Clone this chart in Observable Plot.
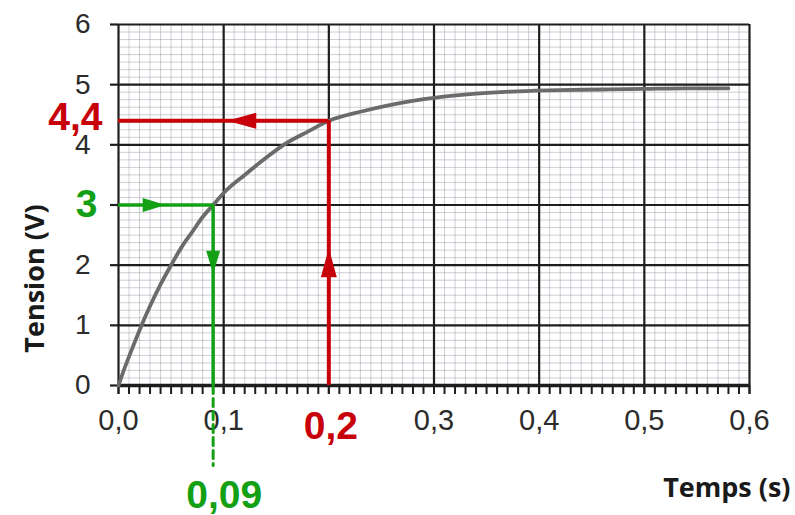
<!DOCTYPE html>
<html><head><meta charset="utf-8">
<script src="https://cdn.jsdelivr.net/npm/d3@7"></script>
<script src="https://cdn.jsdelivr.net/npm/@observablehq/plot@0.6"></script>
<style>
html,body{margin:0;padding:0;background:#fff;}
#chart{width:795px;height:515px;overflow:hidden;}
</style></head><body><div id="chart"></div>
<script>
// Curve: charge of a capacitor
const timeS    = [0, 0.005, 0.01, 0.02, 0.03, 0.04, 0.05, 0.06, 0.07, 0.08, 0.09, 0.10, 0.12, 0.14, 0.157, 0.18, 0.20, 0.23, 0.26, 0.30, 0.34, 0.38, 0.42, 0.46, 0.50, 0.54, 0.58];
const tensionV = [0, 0.25, 0.48, 0.92, 1.32, 1.68, 2.0, 2.3, 2.55, 2.8, 3.0, 3.2, 3.5, 3.78, 4.0, 4.22, 4.4, 4.55, 4.67, 4.78, 4.85, 4.89, 4.91, 4.92, 4.93, 4.94, 4.94];

// Axis ticks and labels (labels covered by the readings are left blank, as in the picture)
const xTicks = [0, 0.1, 0.2, 0.3, 0.4, 0.5, 0.6];
const xTickLabels = ["0,0", "0,1", "", "0,3", "0,4", "0,5", "0,6"];
const yTicks = [0, 1, 2, 3, 4, 5, 6];
const yTickLabels = ["0", "1", "2", "", "4", "5", "6"];
const xMinor = d3.range(0, 61).map(i => i / 100);     // every 0,01 s
const yMinor = d3.range(0, 49).map(i => i / 8);       // every 0,125 V
const xTitle = "Temps (s)";
const yTitle = "Tension (V)";

// Readings (annotations)
const redRead   = [{t: 0.2, v: 4.4, tLabel: "0,2", vLabel: "4,4"}];
const greenRead = [{t: 0.09, v: 3, tLabel: "0,09", vLabel: "3"}];
// Arrow heads: base position and direction (degrees, clockwise from up)
const redHeads   = [{t: 0.2, v: 1.8, dir: 0}, {t: 0.131, v: 4.4, dir: 270}];
const greenHeads = [{t: 0.023, v: 3, dir: 90}, {t: 0.09, v: 2.24, dir: 180}];

const curve = timeS.map((t, i) => ({t, v: tensionV[i]}));

const RED = "#c8000a", GREEN = "#14a014", DARK = "#1e1e1e";
const spikeShape = {draw(ctx, l, r) { ctx.moveTo(-r, 0); ctx.lineTo(0, -l); ctx.lineTo(r, 0); ctx.closePath(); }};
const segShape = {draw(ctx, l) { ctx.moveTo(0, 0); ctx.lineTo(0, -l); }};
const bold = {fontFamily: "Liberation Sans, Arial, sans-serif", fontWeight: "bold", fontSize: 39};

const chart = Plot.plot({
  width: 795, height: 515,
  marginLeft: 118, marginRight: 46, marginTop: 24, marginBottom: 130,
  style: {fontFamily: "Liberation Sans, Arial, sans-serif", color: "#2b2b2b", background: "white", overflow: "visible"},
  x: {domain: [0, 0.6]},
  y: {domain: [0, 6]},
  marks: [
    Plot.gridX(xMinor, {stroke: "#8d94a2", strokeOpacity: 0.45, strokeWidth: 1}),
    Plot.gridY(yMinor, {stroke: "#8d94a2", strokeOpacity: 0.45, strokeWidth: 1}),
    Plot.gridX(xTicks, {stroke: DARK, strokeOpacity: 1, strokeWidth: 2.2}),
    Plot.gridY(yTicks, {stroke: DARK, strokeOpacity: 1, strokeWidth: 2.2}),
    Plot.axisX(xMinor, {tickSize: 9, tickFormat: () => "", strokeWidth: 2, stroke: DARK, label: null}),
    Plot.axisX(xTicks, {tickSize: 9, tickPadding: 15, strokeWidth: 2, stroke: DARK, fontSize: 29, label: null,
      tickFormat: d => xTickLabels[xTicks.indexOf(d)]}),
    Plot.axisY(yTicks, {tickSize: 8, tickPadding: 20, strokeWidth: 2.2, stroke: DARK, fontSize: 28, label: null,
      tickFormat: d => yTickLabels[yTicks.indexOf(d)]}),
    Plot.ruleY([0], {stroke: DARK, strokeWidth: 3.5}),
    Plot.line(curve, {x: "t", y: "v", stroke: "#6b6b6b", strokeWidth: 3.8, curve: "monotone-x"}),
    // red reading
    Plot.ruleX(redRead, {x: "t", y1: 0, y2: "v", stroke: RED, strokeWidth: 4}),
    Plot.ruleY(redRead, {y: "v", x1: 0, x2: "t", stroke: RED, strokeWidth: 4}),
    Plot.vector(redHeads, {x: "t", y: "v", rotate: "dir", length: 29, r: 8, anchor: "start", shape: spikeShape, fill: RED, stroke: "none"}),
    Plot.text(redRead, {x: 0, y: "v", text: "vLabel", textAnchor: "end", dx: -16, dy: -3, fill: RED, ...bold}),
    Plot.text(redRead, {x: "t", y: 0, text: "tLabel", lineAnchor: "top", dy: 26, dx: 2, fill: RED, ...bold}),
    // green reading
    Plot.ruleX(greenRead, {x: "t", y1: 0, y2: "v", stroke: GREEN, strokeWidth: 3.5}),
    Plot.ruleY(greenRead, {y: "v", x1: 0, x2: "t", stroke: GREEN, strokeWidth: 3.5}),
    Plot.vector(greenRead, {x: "t", y: 0, rotate: 180, length: 80, anchor: "start", shape: segShape, stroke: GREEN, strokeWidth: 3, strokeDasharray: "8,5"}),
    Plot.vector(greenHeads, {x: "t", y: "v", rotate: "dir", length: 23, r: 7, anchor: "start", shape: spikeShape, fill: GREEN, stroke: "none"}),
    Plot.text(greenRead, {x: 0, y: "v", text: "vLabel", textAnchor: "end", dx: -21, fill: GREEN, ...bold}),
    Plot.text(greenRead, {x: "t", y: 0, text: "tLabel", lineAnchor: "top", dy: 95, dx: 11, fill: GREEN, ...bold}),
    // axis titles
    Plot.text([xTitle], {frameAnchor: "bottom-right", text: d => d, textAnchor: "end", lineAnchor: "bottom", dx: 41, dy: 111,
      fontFamily: "Open Sans, sans-serif", fontWeight: "bold", fontSize: 27, fill: "#1a1a1a"}),
    Plot.text([yTitle], {frameAnchor: "left", text: d => d, rotate: -90, textAnchor: "middle", lineAnchor: "bottom", dx: -75, dy: 73.5,
      fontFamily: "Open Sans, sans-serif", fontWeight: "bold", fontSize: 27, fill: "#1a1a1a"})
  ]
});
document.getElementById("chart").appendChild(chart);
</script>
</body></html>
